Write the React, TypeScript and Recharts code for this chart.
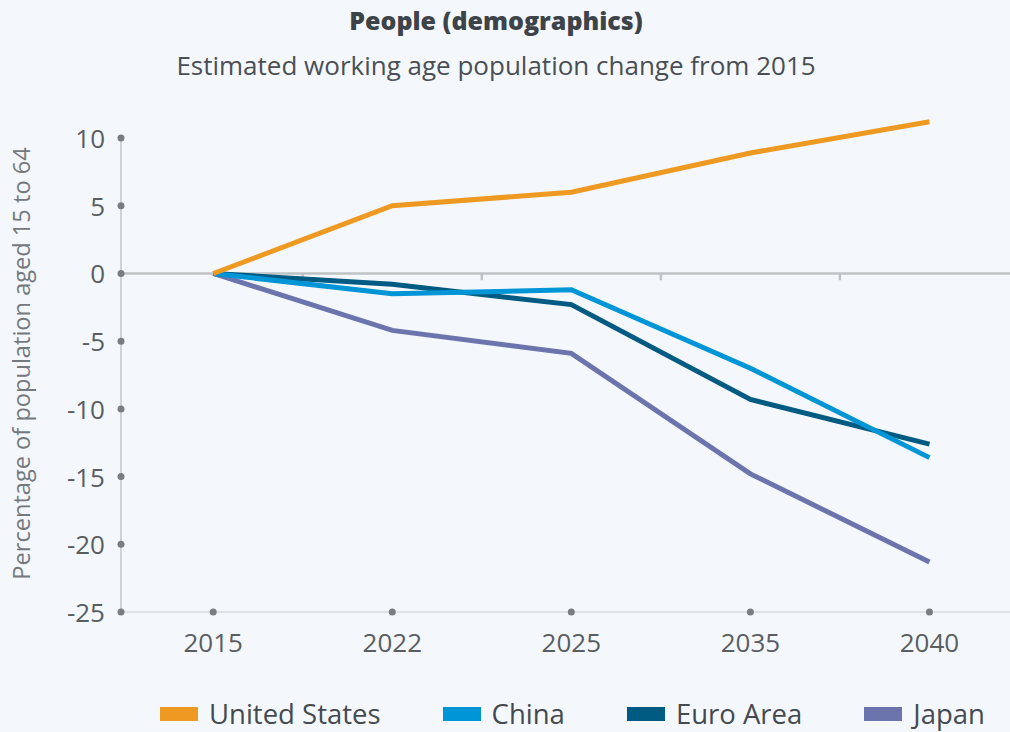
import React from 'react';
import { LineChart, Line, XAxis, YAxis, ReferenceLine } from 'recharts';

const categories = ['2015', '2022', '2025', '2035', '2040'];
const usValues = [0, 5.0, 6.0, 8.9, 11.2];
const chinaValues = [0, -1.5, -1.2, -7.0, -13.6];
const euroValues = [0, -0.8, -2.3, -9.3, -12.6];
const japanValues = [0, -4.2, -5.9, -14.8, -21.3];
const yTicks = [10, 5, 0, -5, -10, -15, -20, -25];

const seriesNames = ['United States', 'China', 'Euro Area', 'Japan'];
const seriesKeys = ['us', 'china', 'euro', 'japan'];
const seriesColors = ['#ee9a22', '#0095d6', '#005b82', '#6b74ad'];

const data = categories.map((c, i) => ({
  idx: i,
  year: c,
  us: usValues[i],
  china: chinaValues[i],
  euro: euroValues[i],
  japan: japanValues[i],
}));

const FONT = '"Open Sans", "DejaVu Sans", sans-serif';
const BG = '#f4f8fc';
const X_MIN = -0.515;
const Y_TOP = yTicks[0];
const Y_BOTTOM = yTicks[yTicks.length - 1];

const YTick = (props: any) => {
  const { x, y, payload } = props;
  return (
    <g>
      <circle cx={x + 16} cy={y} r={3.5} fill="#7a7d80" />
      <text x={x} y={y} textAnchor="end" dominantBaseline="central" fill="#5a5e62" fontSize={26} fontFamily={FONT}>
        {payload.value}
      </text>
    </g>
  );
};

const XTick = (props: any) => {
  const { x, y, payload } = props;
  return (
    <g>
      <circle cx={x} cy={y - 30} r={3.5} fill="#7a7d80" />
      <text x={x} y={y} textAnchor="middle" dominantBaseline="central" fill="#5a5e62" fontSize={26} fontFamily={FONT}>
        {categories[payload.value]}
      </text>
    </g>
  );
};

const YLabel = (props: any) => {
  const { viewBox } = props;
  const cy = viewBox.y + viewBox.height / 2 + 2;
  return (
    <text
      x={21}
      y={cy}
      transform={`rotate(-90 21 ${cy})`}
      textAnchor="middle"
      dominantBaseline="central"
      fill="#75797d"
      fontSize={23.6}
      fontFamily={FONT}
    >
      Percentage of population aged 15 to 64
    </text>
  );
};

export default function App() {
  const drawOrder = [3, 2, 1, 0];
  return (
    <div
      style={{
        position: 'absolute',
        left: 0,
        top: 0,
        width: 1010,
        height: 732,
        overflow: 'hidden',
        background: BG,
        fontFamily: FONT,
      }}
    >
      <div
        style={{
          position: 'absolute',
          left: 0,
          width: 992,
          top: 3,
          textAlign: 'center',
          fontSize: 25,
          fontWeight: 800,
          color: '#3d4449',
          lineHeight: '34px',
        }}
      >
        People (demographics)
      </div>
      <div
        style={{
          position: 'absolute',
          left: 0,
          width: 992,
          top: 47,
          textAlign: 'center',
          fontSize: 26,
          color: '#4a4f54',
          lineHeight: '36px',
        }}
      >
        Estimated working age population change from 2015
      </div>
      <div style={{ position: 'absolute', left: 0, top: 0 }}>
        <LineChart
          width={1019}
          height={732}
          data={data}
          margin={{ top: 111, right: 0, bottom: 0, left: 0 }}
        >
          <XAxis
            dataKey="idx"
            type="number"
            domain={[X_MIN, 4.5]}
            ticks={categories.map((_, i) => i)}
            tick={<XTick />}
            tickLine={false}
            tickSize={0}
            tickMargin={30}
            height={120}
            axisLine={{ stroke: '#dde2e7', strokeWidth: 2 }}
            allowDataOverflow
          />
          <YAxis
            type="number"
            domain={[Y_BOTTOM, 12]}
            ticks={yTicks}
            tick={<YTick />}
            tickLine={false}
            tickSize={0}
            tickMargin={16}
            width={121}
            axisLine={false}
            interval={0}
            label={<YLabel />}
          />
          <ReferenceLine
            segment={[
              { x: X_MIN, y: Y_BOTTOM },
              { x: X_MIN, y: Y_TOP },
            ]}
            stroke="#cfd3d6"
            strokeWidth={2}
          />
          <ReferenceLine y={0} stroke="#bfc3c6" strokeWidth={2.5} />
          {categories.slice(0, -1).map((_, i) => (
            <ReferenceLine
              key={'m' + i}
              segment={[
                { x: i + 0.5, y: 0 },
                { x: i + 0.5, y: -0.5 },
              ]}
              stroke="#bfc3c6"
              strokeWidth={2.5}
            />
          ))}
          {drawOrder.map((s) => (
            <Line
              key={seriesKeys[s]}
              type="linear"
              dataKey={seriesKeys[s]}
              name={seriesNames[s]}
              stroke={seriesColors[s]}
              strokeWidth={5}
              dot={false}
              activeDot={false}
              isAnimationActive={false}
            />
          ))}
        </LineChart>
      </div>
      <div
        style={{
          position: 'absolute',
          left: 160,
          top: 697,
          width: 850,
          display: 'flex',
          alignItems: 'center',
          fontSize: 27.5,
          color: '#444a50',
          lineHeight: '34px',
          whiteSpace: 'nowrap',
        }}
      >
        {seriesNames.map((n, i) => (
          <div key={n} style={{ display: 'flex', alignItems: 'center', marginRight: 62, flexShrink: 0 }}>
            <span style={{ display: 'inline-block', width: 38, height: 14, background: seriesColors[i], marginRight: 11 }} />
            <span>{n}</span>
          </div>
        ))}
      </div>
    </div>
  );
}
